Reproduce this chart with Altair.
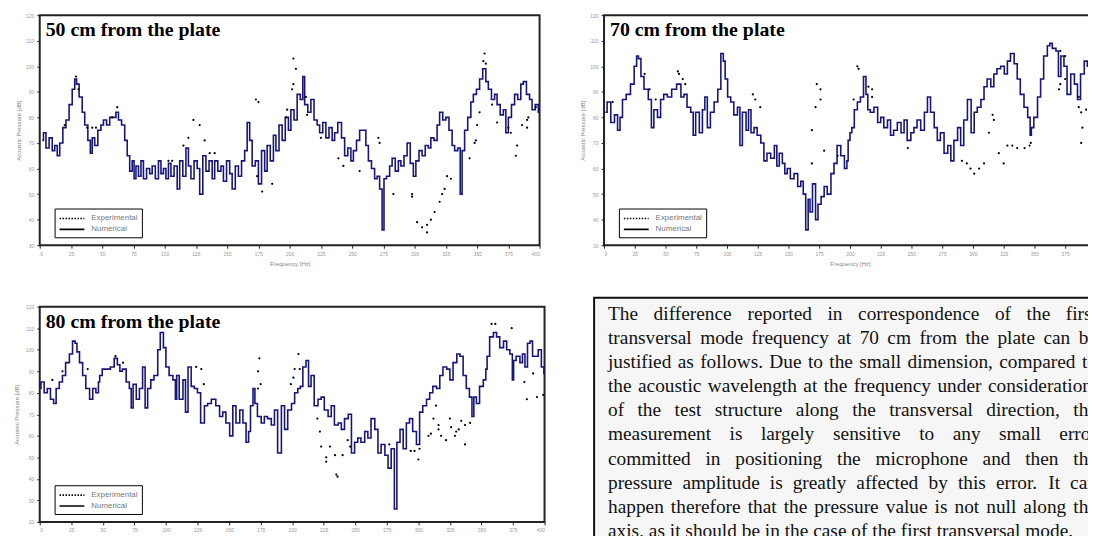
import altair as alt
import pandas as pd

# ---------------- data ----------------
x_ticks = list(range(0, 401, 25))
y_ticks_ab = list(range(30, 121, 10))
y_ticks_c = list(range(20, 121, 10))

num_50 = [(2,71),(4,74),(6,68),(9,72),(11,67),(13,69),(15,65),(17,70),(20,76),(22,79),(25,85),(27,91),(29,95),(30,93),
          (33,88),(35,82),(37,77),(40,71),(41,66),(43,72),(45,69),(48,75),(50,77),(52,79),(55,77),(57,80),(60,80),(62,82),
          (64,79),(67,77),(69,71),(71,65),(73,59),(75,63),(76,56),(78,61),(80,57),(82,63),(84,56),(87,60),(89,58),(91,61),
          (94,56),(96,63),(98,58),(100,60),(102,56),(104,62),(106,57),(109,61),(111,52),(113,63),(116,57),(118,68),(120,61),
          (122,56),(125,63),(127,60),(129,50),(132,65),(134,59),(137,63),(139,56),(141,63),(144,59),(146,61),(148,55),(151,63),
          (153,58),(155,52),(158,61),(160,57),(163,63),(165,67),(167,78),(169,71),(171,61),(174,63),(176,54),(179,67),(181,59),
          (183,69),(186,63),(188,73),(190,67),(193,77),(195,71),(198,80),(200,75),(202,83),(205,79),(207,89),(210,87),(211,96),
          (213,85),(216,82),(218,87),(221,79),(223,77),(225,74),(228,78),(230,72),(233,76),(235,71),(237,74),(240,78),(243,72),
          (245,65),(248,68),(250,63),(252,67),(255,71),(257,75),(260,75),(262,69),(264,63),(267,60),(269,56),(271,57),(273,52),
          (275,36),(276,56),(279,57),(281,61),(283,64),(286,59),(288,63),(290,61),(293,65),(295,70),(298,62),(300,57),(302,63),
          (305,67),(307,65),(310,69),(312,68),(314,72),(317,71),(319,77),(321,82),(324,79),(326,80),(329,75),(331,69),(333,67),
          (336,68),(337,50),(339,67),(341,75),(344,80),(346,86),(348,89),(351,91),(353,95),(356,99),(358,94),(360,91),(363,87),
          (365,89),(367,85),(370,81),(372,83),(374,74),(376,80),(379,85),(381,89),(384,87),(386,93),(388,94),(391,89),(393,87),
          (395,83),(398,85),(400,82)]
exp_50 = [(29,96),(31,91),(20,77),(38,76),(42,76),(45,76),(62,84),(58,80),(123,79),(128,77),(119,72),(115,69),(132,71),
          (136,66),(140,66),(103,63),(106,63),(173,87),(175,86),(178,51),(174,57),(186,54),(198,83),(202,91),(203,103),(197,80),
          (205,99),(203,93),(213,88),(214,81),(225,72),(239,64),(243,61),(256,59),(271,72),(272,70),(283,50),(298,50),(298,49),
          (302,39),(306,37),(310,35),(310,38),(313,40),(316,43),(320,47),(322,50),(324,52),(326,57),(329,56),(344,64),(348,70),
          (349,71),(350,77),(352,82),(355,102),(356,105),(357,101),(362,85),(366,78),(375,76),(377,74),(381,65),(382,69),
          (386,77),(390,76),(390,79),(391,80),(397,84)]

num_70 = [(1,82),(4,86),(7,78),(10,81),(12,75),(14,80),(16,87),(20,89),(23,93),(26,100),(27,104),(29,103),(31,96),(34,91),
          (38,87),(39,76),(42,83),(45,80),(47,87),(50,89),(53,88),(57,91),(61,93),(64,88),(66,89),(69,84),(72,82),(73,73),
          (76,82),(79,74),(81,83),(83,88),(85,76),(88,82),(91,86),(94,91),(96,105),(98,102),(99,95),(102,88),(104,86),(107,81),
          (110,84),(111,69),(114,82),(117,75),(118,83),(121,74),(123,76),(126,73),(129,70),(131,63),(134,66),(137,64),(140,69),
          (141,61),(144,66),(146,62),(148,58),(150,60),(153,56),(156,58),(159,53),(161,55),(163,50),(165,36),(167,48),(168,43),
          (171,54),(173,40),(175,46),(178,49),(180,53),(183,50),(186,58),(188,62),(191,69),(194,65),(197,60),(198,63),(199,71),
          (201,74),(202,76),(205,83),(207,86),(210,88),(212,96),(214,89),(215,83),(218,82),(221,84),(224,78),(226,80),(229,76),
          (232,79),(234,73),(237,75),(240,78),(243,74),(245,79),(248,71),(251,74),(253,76),(256,79),(259,75),(262,82),(264,88),
          (267,82),(270,76),(272,71),(275,74),(278,66),(281,69),(283,63),(286,71),(289,76),(291,69),(294,79),(297,87),(300,74),
          (302,82),(305,84),(308,87),(310,92),(313,95),(316,92),(318,97),(321,99),(324,100),(327,97),(329,102),(332,105),
          (335,101),(337,95),(340,89),(343,84),(346,80),(347,73),(348,76),(351,80),(354,88),(356,95),(359,104),(362,108),
          (363,109),(366,107),(369,106),(370,96),(373,104),(375,100),(378,89),(381,97),(384,93),(386,87),(389,97),(392,102),
          (394,100),(397,96),(399,99)]
exp_70 = [(7,86),(33,97),(37,91),(42,87),(60,98),(61,97),(64,95),(66,93),(121,89),(123,87),(127,84),(172,84),(173,93),
          (176,91),(176,87),(169,75),(179,67),(169,62),(190,65),(203,87),(206,100),(207,99),(215,92),(218,91),(218,88),
          (247,68),(291,63),(295,62),(298,60),(301,58),(305,60),(309,62),(313,74),(316,81),(317,79),(321,66),(325,62),
          (328,69),(332,69),(336,68),(342,68),(346,69),(347,70),(370,91),(371,93),(371,106),(375,104),(375,95),(386,88),
          (386,84),(388,82),(389,76),(392,83),(397,78),(388,70),(396,69)]

num_80 = [(0,82),(2,85),(5,80),(7,82),(10,77),(12,75),(14,82),(17,85),(19,88),(22,94),(25,98),(27,104),(29,103),(30,99),
          (33,94),(35,88),(38,82),(41,77),(43,82),(46,80),(47,85),(48,88),(51,91),(54,91),(58,92),(60,96),(63,93),(64,90),
          (67,91),(70,85),(72,82),(73,73),(75,84),(78,77),(80,82),(83,92),(84,73),(87,82),(89,86),(92,88),(95,100),(96,108),
          (97,108),(99,101),(101,92),(104,88),(107,86),(108,77),(109,88),(112,77),(115,86),(116,71),(119,92),(121,83),(124,82),
          (126,80),(129,66),(132,74),(134,75),(138,77),(141,74),(144,69),(146,71),(149,66),(152,60),(154,74),(157,66),(160,72),
          (162,66),(165,57),(166,62),(168,74),(170,82),(171,75),(174,69),(177,66),(179,69),(182,68),(185,65),(187,72),(190,52),
          (193,74),(195,63),(198,72),(201,75),(203,80),(206,82),(207,83),(210,92),(212,95),(214,83),(216,88),(219,74),(222,77),
          (224,78),(227,72),(230,69),(232,74),(235,65),(238,66),(240,63),(243,68),(246,70),(248,52),(251,57),(253,59),(256,57),
          (259,62),(261,59),(264,68),(267,63),(269,52),(272,56),(275,51),(277,45),(280,54),(282,26),(284,57),(287,63),(289,54),
          (292,66),(294,68),(297,62),(300,56),(302,71),(305,74),(308,77),(310,80),(313,83),(316,82),(318,88),(321,92),(324,91),
          (326,86),(329,94),(332,98),(334,97),(337,88),(339,82),(342,78),(343,69),(345,78),(347,75),(350,83),(353,86),(354,91),
          (355,97),(358,106),(361,108),(363,106),(366,101),(369,104),(371,100),(374,98),(375,86),(376,95),(379,97),(382,94),
          (383,98),(386,92),(387,103),(390,104),(391,97),(394,97),(396,100),(399,92),(400,89)]
exp_80 = [(10,86),(18,90),(38,91),(60,97),(66,94),(124,92),(128,91),(130,84),(174,96),(173,90),(175,84),(173,82),(205,98),
          (202,91),(201,87),(199,84),(206,91),(223,55),(230,55),(227,50),(227,48),(234,51),(240,51),(235,42),(236,41),(222,62),
          (220,68),(244,58),(246,55),(277,56),(294,53),(297,53),(300,49),(301,54),(308,60),(310,61),(314,74),(316,65),(316,63),
          (312,68),(318,60),(322,58),(325,68),(326,64),(329,60),(330,62),(334,67),(337,65),(337,56),(332,63),(341,66),(358,112),
          (361,112),(374,110),(384,85),(386,77),(391,89),(394,78),(399,79)]

panel_titles = ["50 cm from the plate", "70 cm from the plate", "80 cm from the plate"]
series_names = ["Experimental", "Numerical"]

text_lines = [
    "The difference reported in correspondence of the first",
    "transversal mode frequency at 70 cm from the plate can be",
    "justified as follows. Due to the small dimension, compared to",
    "the acoustic wavelength at the frequency under consideration,",
    "of the test structure along the transversal direction, the",
    "measurement is largely sensitive to any small error",
    "committed in positioning the microphone and then the",
    "pressure amplitude is greatly affected by this error. It can",
    "happen therefore that the pressure value is not null along the",
    "axis, as it should be in the case of the first transversal mode.",
]

# ---------------- styling ----------------
NAVY = "#15157a"
LABEL_FONT = "Liberation Sans"
SERIF = "Liberation Serif"


def panel(num, exp, label, w, h, ylo, yticks, ytitle_pad=4):
    dn = pd.DataFrame(num, columns=["f", "db"])
    dn["series"] = "Numerical"
    de = pd.DataFrame(exp, columns=["f", "db"])
    de["series"] = "Experimental"
    x = alt.X("f:Q", scale=alt.Scale(domain=[0, 400], nice=False),
              axis=alt.Axis(values=x_ticks, title="Frequency [Hz]", grid=False))
    y = alt.Y("db:Q", scale=alt.Scale(domain=[ylo, 120], nice=False, zero=False),
              axis=alt.Axis(values=yticks, title="Acoustic Pressure [dB]", grid=False,
                            titlePadding=ytitle_pad))
    dash = alt.StrokeDash(
        "series:N",
        scale=alt.Scale(domain=series_names, range=[[1.5, 1.5], [1, 0]]),
        legend=alt.Legend(title=None, orient="none", legendX=15, legendY=h - 37,
                          symbolType="M-1,0H4", symbolSize=100, symbolStrokeWidth=1.6,
                          symbolStrokeColor="black", symbolFillColor="transparent",
                          labelFontSize=8, labelColor="#777", labelFont=LABEL_FONT,
                          strokeColor="black", fillColor="white", padding=4, rowPadding=1,
                          labelOffset=21),
    )
    line = alt.Chart(dn).mark_line(interpolate="step", color=NAVY, strokeWidth=1.6).encode(
        x=x, y=y, strokeDash=dash)
    pts = alt.Chart(de).mark_circle(size=5, color="black", opacity=1).encode(x=x, y=y)
    ttl = alt.Chart(pd.DataFrame({"t": [label]})).mark_text(
        align="left", baseline="top", font=SERIF, fontWeight="bold", fontSize=20, color="black"
    ).encode(x=alt.value(6), y=alt.value(5), text="t:N")
    return alt.layer(line, pts, ttl).properties(width=w, height=h)


# ---------------- text box (justified words) ----------------
TIMES = {
    'a': 444, 'b': 500, 'c': 444, 'd': 500, 'e': 444, 'f': 333, 'g': 500, 'h': 500, 'i': 278, 'j': 278,
    'k': 500, 'l': 278, 'm': 778, 'n': 500, 'o': 500, 'p': 500, 'q': 500, 'r': 333, 's': 389, 't': 278,
    'u': 500, 'v': 500, 'w': 722, 'x': 500, 'y': 500, 'z': 444, 'T': 611, 'D': 722, 'I': 333, ' ': 250,
    '.': 250, ',': 250,
}
FS = 19.5
TB_W, TB_H = 512, 262
LEFT_PAD, JUST_W = 14, 493


def wpx(s):
    return sum(TIMES.get(c, 500) for c in s) / 1000 * FS


rows = []
for i, ln in enumerate(text_lines):
    words = ln.split(" ")
    widths = [wpx(wd) for wd in words]
    if i < len(text_lines) - 1 and len(words) > 1:
        gap = (JUST_W - sum(widths)) / (len(words) - 1)
    else:
        gap = wpx(" ")
    xpos = LEFT_PAD
    for wd, ww in zip(words, widths):
        rows.append({"word": wd, "x": xpos, "line": i})
        xpos += ww + gap
words_df = pd.DataFrame(rows)

text_box = alt.Chart(words_df).mark_text(
    align="left", baseline="middle", font=SERIF, fontSize=FS, color="#111"
).encode(
    x=alt.X("x:Q", scale=alt.Scale(domain=[0, TB_W], nice=False, zero=False), axis=None),
    y=alt.Y("line:Q", scale=alt.Scale(domain=[-0.66, 10.1], reverse=True, nice=False, zero=False), axis=None),
    text="word:N",
).properties(width=TB_W, height=TB_H,
             view=alt.ViewBackground(fill="#f6f6f6", stroke="#111", strokeWidth=2))

# invisible spacer that pushes the 80 cm panel a little below the text box top
spacer = alt.Chart(pd.DataFrame({"a": [0]})).mark_point(opacity=0).encode(
    x=alt.value(0), y=alt.value(0)
).properties(width=509, height=1, view=alt.ViewBackground(stroke="transparent"))

pA = panel(num_50, exp_50, panel_titles[0], 504, 232, 30, y_ticks_ab)
pB = panel(num_70, exp_70, panel_titles[1], 496, 232, 30, y_ticks_ab)
pC = panel(num_80, exp_80, panel_titles[2], 509, 217, 20, y_ticks_c, ytitle_pad=6)

RES = dict(strokeDash="independent")
row1 = alt.hconcat(pA, pB, spacing=34).resolve_scale(**RES).resolve_legend(**RES)
colC = alt.vconcat(spacer, pC, spacing=2).resolve_scale(**RES).resolve_legend(**RES)
row2 = alt.hconcat(colC, text_box, spacing=44).resolve_scale(**RES).resolve_legend(**RES)

# the page only shows the left part of a wider figure: the svg is cut at the right edge
chart = alt.vconcat(row1, row2, spacing=27).resolve_scale(**RES).resolve_legend(**RES).properties(
    padding={"left": 4, "top": 2, "right": -15, "bottom": -25},
    background="white",
).configure_view(
    stroke="#222", strokeWidth=2
).configure_axis(
    domain=False, labelFontSize=5, labelColor="#999", labelFont=LABEL_FONT,
    tickColor="#222", tickSize=3, labelPadding=3,
    titleFontSize=6, titleColor="#888", titleFont=LABEL_FONT, titleFontWeight="normal", titlePadding=4,
)

chart.save("out.html", embed_options={"renderer": "svg", "actions": False})
